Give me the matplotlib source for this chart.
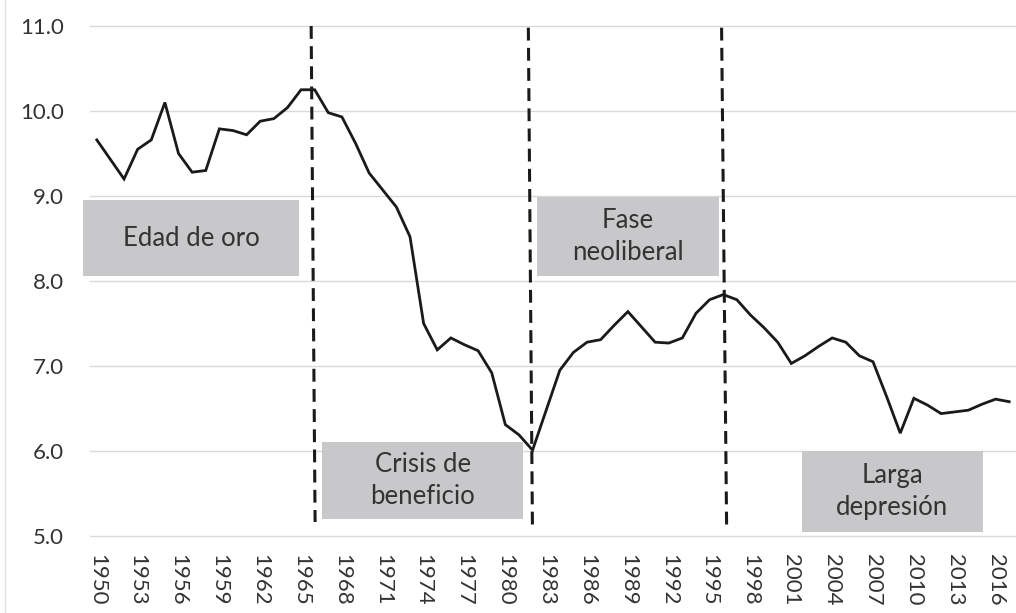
import matplotlib
matplotlib.use("Agg")
import matplotlib.pyplot as plt
from matplotlib.patches import Rectangle
from matplotlib.lines import Line2D

years = list(range(1950, 2018))
values = [9.66, 9.43, 9.20, 9.55, 9.66, 10.10, 9.50, 9.28, 9.30, 9.79,
          9.77, 9.72, 9.88, 9.91, 10.04, 10.25, 10.25, 9.98, 9.93, 9.62,
          9.27, 9.07, 8.87, 8.52, 7.50, 7.19, 7.33, 7.25, 7.18, 6.92,
          6.31, 6.19, 6.01, 6.48, 6.95, 7.16, 7.28, 7.31, 7.48, 7.64,
          7.46, 7.28, 7.27, 7.33, 7.62, 7.78, 7.84, 7.78, 7.60, 7.45,
          7.28, 7.03, 7.12, 7.23, 7.33, 7.28, 7.12, 7.05, 6.64, 6.21,
          6.62, 6.54, 6.44, 6.46, 6.48, 6.55, 6.61, 6.58]
tick_years = list(range(1950, 2017, 3))
y_ticks = [5.0, 6.0, 7.0, 8.0, 9.0, 10.0, 11.0]

period_labels = ["Edad de oro", "Crisis de\nbeneficio", "Fase\nneoliberal", "Larga\ndepresión"]
# box extents: (x0, x1, y0, y1) in data units
period_boxes = [(1948.97, 1964.85, 8.06, 8.95),
                (1966.54, 1981.32, 5.20, 6.11),
                (1982.35, 1995.66, 8.06, 8.99),
                (2001.76, 2015.07, 5.05, 6.00)]
# dividers: (x_top, x_bottom, y_top, y_bottom)
dividers = [(1965.74, 1966.03, 11.0, 5.165),
            (1981.69, 1981.99, 10.98, 5.106),
            (1995.88, 1996.25, 10.98, 5.106)]

FONT = ["Lato", "DejaVu Sans"]
plt.rcParams['font.family'] = FONT

fig = plt.figure(figsize=(10.16, 6.13), dpi=100)
ax = fig.add_axes([90/1016, 1-536/613, 1-90/1016, (536-26)/613])

ax.set_xlim(1949.5, 2017.5)
ax.set_ylim(5.0, 11.0)

for v in y_ticks:
    ax.axhline(v, color="#d9d9d9", lw=1.0, zorder=0, clip_on=False)

for (x0, x1, y0, y1), lab in zip(period_boxes, period_labels):
    ax.add_patch(Rectangle((x0, y0), x1 - x0, y1 - y0, facecolor="#c8c8ca",
                           edgecolor="none", zorder=1, clip_on=False))
    ax.text((x0 + x1) / 2, (y0 + y1) / 2, lab, ha="center", va="center",
            fontsize=18.5, color="#333333", linespacing=1.35, zorder=2)

for xt, xb, yt, yb in dividers:
    ax.add_line(Line2D([xt, xb], [yt, yb], color="#1a1a1a", lw=2.2,
                       linestyle=(0, (4.2, 2.4)), zorder=3, clip_on=False))

ax.plot(years, values, color="#1a1a1a", lw=2.0, zorder=4, clip_on=False,
        solid_joinstyle="miter")

ax.set_xticks(tick_years)
ax.set_xticklabels([str(y) for y in tick_years], rotation=-90, fontsize=16,
                   color="#333333")
ax.set_yticks(y_ticks)
ax.set_yticklabels([f"{v:.1f}" for v in y_ticks], fontsize=16, color="#333333")
ax.tick_params(axis="both", length=0)
ax.tick_params(axis="x", pad=13)
ax.tick_params(axis="y", pad=19)
for s in ax.spines.values():
    s.set_visible(False)
ax.patch.set_alpha(0)

fig.add_artist(Line2D([5/1016, 5/1016], [0, 1], color="#e0e0e0", lw=1.0))

fig.savefig("out.png", dpi=100)
